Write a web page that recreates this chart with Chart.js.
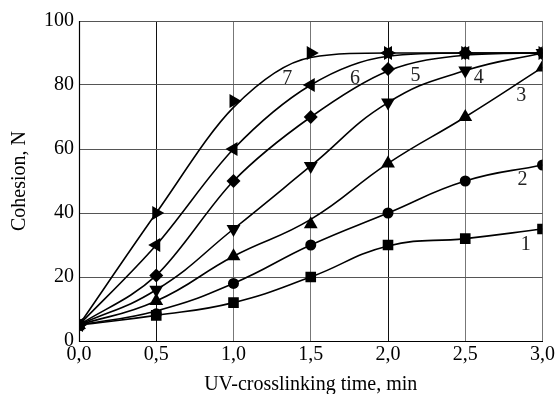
<!DOCTYPE html>
<html>
<head>
<meta charset="utf-8">
<script src="https://cdn.jsdelivr.net/npm/chart.js@4"></script>
<style>
  html, body { margin: 0; padding: 0; background: #fff; }
  #wrap { width: 557px; height: 394px; }
</style>
</head>
<body>
<div id="wrap"><canvas id="c" width="557" height="394"></canvas></div>
<script>
// ---- data ----
const times = [0.0, 0.5, 1.0, 1.5, 2.0, 2.5, 3.0];
const xTickLabels = ['0,0', '0,5', '1,0', '1,5', '2,0', '2,5', '3,0'];
const yTickLabels = ['0', '20', '40', '60', '80', '100'];

// measured points (markers)
const s1 = [5, 8, 12, 20, 30, 32, 35];
const s2 = [5, 8.5, 18, 30, 40, 50, 55];
const s3 = [5, 12.5, 26.5, 36.5, 55.5, 70, 85.5];
const s4 = [5, 16, 35, 54.7, 74.5, 84.5, 90];
const s5 = [5, 20.5, 50, 70, 85, 90, 90];
const s6 = [5, 30, 60, 80, 90, 90, 90];
const s7 = [5, 40, 75, 90, 90, 90, 90];

// smoothed curves (same x positions)
const c1 = [5, 8, 12, 20, 29.7, 32, 35];
const c2 = [5, 9.4, 18, 30, 40, 50, 55];
const c3 = [5, 12.5, 26.5, 38, 55.5, 70, 85.5];
const c4 = [5, 16, 35, 54.7, 74.5, 84.5, 90];
const c5 = [5, 20.5, 50, 70, 84.4, 89.3, 90];
const c6 = [5, 30, 60, 80, 89, 90, 90];
const c7 = [5, 40, 73, 88.6, 90, 90, 90];

const curveLabels = ['1', '2', '3', '4', '5', '6', '7'];
const labelX = [2.892, 2.871, 2.862, 2.587, 2.178, 1.787, 1.348];
const labelY = [30.2, 50.5, 76.6, 82.3, 83.0, 81.8, 81.8];

// ---- build chart ----
const seriesPts = [s1, s2, s3, s4, s5, s6, s7];
const seriesCurves = [c1, c2, c3, c4, c5, c6, c7];
const curveModes = ['default', 'default', 'default', 'default', 'monotone', 'monotone', 'monotone'];
const styles = [
  { pointStyle: 'rect', radius: 7.5, rotation: 0 },
  { pointStyle: 'circle', radius: 5.5, rotation: 0 },
  { pointStyle: 'triangle', radius: 8, rotation: 0 },
  { pointStyle: 'triangle', radius: 8, rotation: 180 },
  { pointStyle: 'rectRot', radius: 7, rotation: 0 },
  { pointStyle: 'triangle', radius: 8, rotation: 270 },
  { pointStyle: 'triangle', radius: 8, rotation: 90 }
];

const toXY = arr => arr.map((v, i) => ({ x: times[i], y: v }));

const datasets = [];
seriesCurves.forEach((c, i) => {
  datasets.push({
    data: toXY(c),
    showLine: true,
    borderColor: '#000',
    borderWidth: 1.6,
    pointRadius: 0,
    cubicInterpolationMode: curveModes[i],
    tension: 0.45,
    fill: false
  });
});
seriesPts.forEach((p, i) => {
  datasets.push({
    data: toXY(p),
    showLine: false,
    pointStyle: styles[i].pointStyle,
    pointRadius: styles[i].radius,
    pointRotation: styles[i].rotation,
    backgroundColor: '#000',
    borderColor: '#000',
    borderWidth: 0
  });
});

const serif = "'Liberation Serif', 'DejaVu Serif', serif";

const labelPlugin = {
  id: 'curveLabels',
  afterDatasetsDraw(chart) {
    const ctx = chart.ctx;
    const xs = chart.scales.x, ys = chart.scales.y;
    ctx.save();
    ctx.font = '20px ' + serif;
    ctx.fillStyle = '#222';
    ctx.textAlign = 'center';
    ctx.textBaseline = 'middle';
    curveLabels.forEach((t, i) => {
      ctx.fillText(t, xs.getPixelForValue(labelX[i]), ys.getPixelForValue(labelY[i]));
    });
    ctx.restore();
  }
};

const framePlugin = {
  id: 'frame',
  afterDraw(chart) {
    const a = chart.chartArea, ctx = chart.ctx;
    ctx.save();
    ctx.strokeStyle = '#000';
    ctx.lineWidth = 1.2;
    ctx.beginPath();
    ctx.moveTo(a.left + 0.5, a.top);
    ctx.lineTo(a.left + 0.5, a.bottom + 0.5);
    ctx.lineTo(a.right, a.bottom + 0.5);
    ctx.stroke();
    ctx.restore();
  }
};

new Chart(document.getElementById('c'), {
  type: 'scatter',
  data: { datasets },
  options: {
    responsive: false,
    animation: false,
    events: [],
    layout: { padding: { top: 21, right: 13, left: 0, bottom: 0 } },
    plugins: { legend: { display: false }, tooltip: { enabled: false } },
    scales: {
      x: {
        type: 'linear', min: 0, max: 3,
        afterFit(s) { s.height = 53; },
        ticks: {
          stepSize: 0.5,
          color: '#000',
          font: { family: serif, size: 20 },
          padding: 2,
          maxRotation: 0,
          callback: (v) => xTickLabels[Math.round(v / 0.5)]
        },
        grid: {
          drawTicks: false,
          color: (c) => {
            const v = c.tick ? c.tick.value : 0;
            return (v === 0.5 || v === 2) ? '#111' : '#777';
          },
          lineWidth: 1
        },
        border: { display: true, color: '#000', width: 1 },
        title: {
          display: true,
          text: 'UV-crosslinking time, min',
          color: '#000',
          font: { family: serif, size: 20 },
          padding: { top: 0, bottom: -3 }
        }
      },
      y: {
        type: 'linear', min: 0, max: 100,
        afterFit(s) { s.width = 79; },
        ticks: {
          stepSize: 20,
          color: '#000',
          font: { family: serif, size: 20 },
          padding: 5,
          callback: (v) => yTickLabels[Math.round(v / 20)]
        },
        grid: { drawTicks: false, color: '#555', lineWidth: 1 },
        border: { display: true, color: '#000', width: 1 },
        title: {
          display: true,
          text: 'Cohesion, N',
          color: '#000',
          font: { family: serif, size: 20 },
          padding: { top: 8, bottom: 0 }
        }
      }
    }
  },
  plugins: [labelPlugin, framePlugin]
});
</script>
</body>
</html>
